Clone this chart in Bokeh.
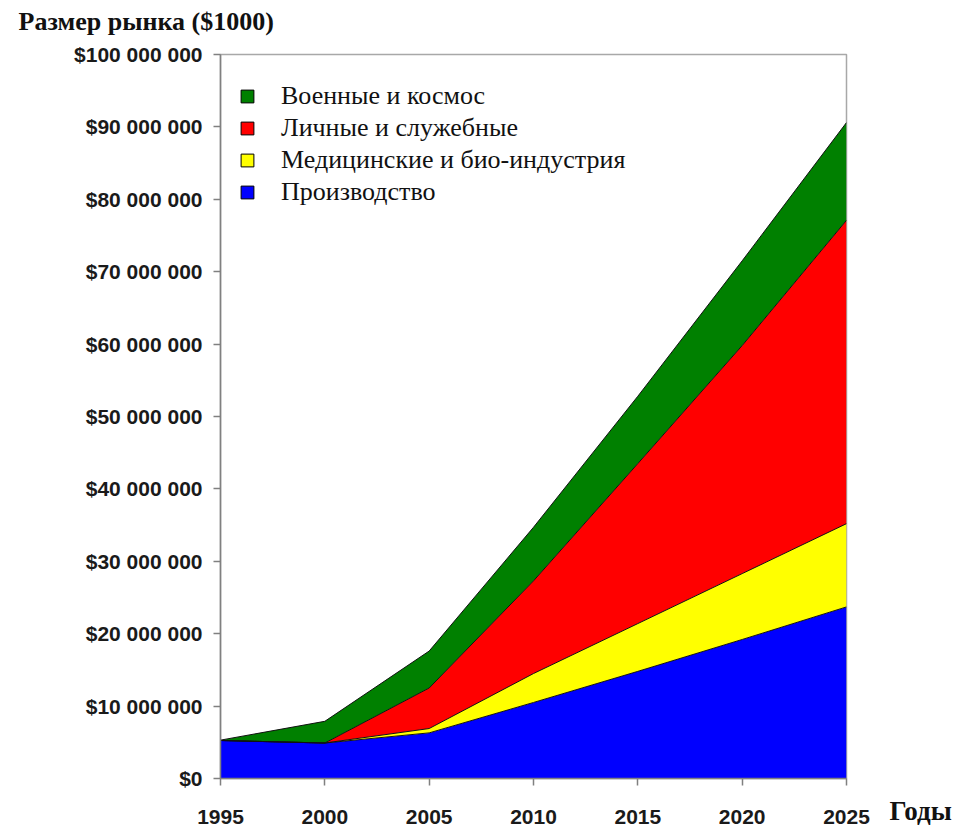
from bokeh.plotting import figure
from bokeh.models import ColumnDataSource, FixedTicker, Label, Legend, LegendItem, Range1d
from bokeh.embed import file_html
from bokeh.resources import INLINE

# ---- data (market size, $1000) ----
years = [1995, 2000, 2005, 2010, 2015, 2020, 2025]
manufacturing = [5_250_000, 4_900_000, 6_300_000, 10_500_000, 14_800_000, 19_200_000, 23_700_000]
medical = [0, 0, 600_000, 4_000_000, 6_600_000, 9_100_000, 11_500_000]
personal = [0, 0, 5_600_000, 12_800_000, 22_100_000, 31_500_000, 41_900_000]
military = [50_000, 3_000_000, 5_100_000, 7_400_000, 9_300_000, 11_700_000, 13_500_000]

series_keys = ["manufacturing", "medical", "personal", "military"]
series_names = ["Производство", "Медицинские и био-индустрия", "Личные и служебные", "Военные и космос"]
series_colors = ["#0000ff", "#ffff00", "#ff0000", "#008000"]

y_ticks = [0, 10_000_000, 20_000_000, 30_000_000, 40_000_000, 50_000_000,
           60_000_000, 70_000_000, 80_000_000, 90_000_000, 100_000_000]
y_tick_labels = ["$0", "$10 000 000", "$20 000 000", "$30 000 000", "$40 000 000", "$50 000 000",
                 "$60 000 000", "$70 000 000", "$80 000 000", "$90 000 000", "$100 000 000"]
title_text = "Размер рынка ($1000)"
x_title_text = "Годы"

source = ColumnDataSource(dict(x=years, manufacturing=manufacturing, medical=medical,
                               personal=personal, military=military))

p = figure(width=962, height=826, output_backend="svg", toolbar_location=None,
           x_range=Range1d(years[0], years[-1]), y_range=Range1d(y_ticks[0], y_ticks[-1]),
           min_border_left=220, min_border_right=116, min_border_top=54, min_border_bottom=48)
p.background_fill_color = "white"
p.border_fill_color = "white"
p.outline_line_color = "#a8a8a8"
p.outline_line_width = 1.5
p.grid.grid_line_color = None

p.varea_stack(stackers=series_keys, x="x", source=source, color=series_colors)
p.vline_stack(stackers=series_keys, x="x", source=source, color="#111111", line_width=1)

# axes
for ax in (p.xaxis, p.yaxis):
    ax.axis_line_color = "#808080"
    ax.axis_line_width = 1.5
    ax.major_tick_line_color = "#808080"
    ax.major_tick_line_width = 1.5
    ax.major_tick_in = 0
    ax.major_tick_out = 7
    ax.minor_tick_line_color = None
    ax.major_label_text_font = "Liberation Sans"
    ax.major_label_text_font_style = "bold"
    ax.major_label_text_color = "#1a1a1a"

p.yaxis.ticker = FixedTicker(ticks=y_ticks)
p.yaxis.major_label_overrides = dict(zip(y_ticks, y_tick_labels))
p.yaxis.major_label_text_font_size = "21px"
p.yaxis.major_label_standoff = 11

p.xaxis.ticker = FixedTicker(ticks=years)
p.xaxis.major_label_text_font_size = "21px"
p.xaxis.major_label_standoff = 24

# legend with black-bordered squares (hidden NaN points, legend only)
nan = float("nan")
items = []
for name, col in reversed(list(zip(series_names, series_colors))):
    r = p.scatter(x=[nan], y=[nan], marker="square", size=13, fill_color=col,
                  line_color="black", line_width=1)
    items.append(LegendItem(label=name, renderers=[r]))
legend = Legend(items=items, location=(11, 570), border_line_color=None,
                background_fill_alpha=0, glyph_width=32, glyph_height=32,
                spacing=0, padding=10, margin=0, label_standoff=18,
                label_text_font="Liberation Serif", label_text_font_size="26px",
                label_text_color="#111111")
p.add_layout(legend)

# chart title (top-left) and x-axis title (right of the axis)
p.add_layout(Label(x=-202, y=33, x_units="screen", y_units="screen", text=title_text,
                   text_font="Liberation Serif", text_font_style="bold", text_font_size="26px",
                   text_baseline="alphabetic", text_color="#111111"), "above")
p.add_layout(Label(x=43, y=-32, x_units="screen", y_units="screen", text=x_title_text,
                   text_font="Liberation Serif", text_font_style="bold", text_font_size="27px",
                   text_baseline="alphabetic", text_color="#111111"), "right")

open("out.html", "w").write(file_html(p, INLINE))
